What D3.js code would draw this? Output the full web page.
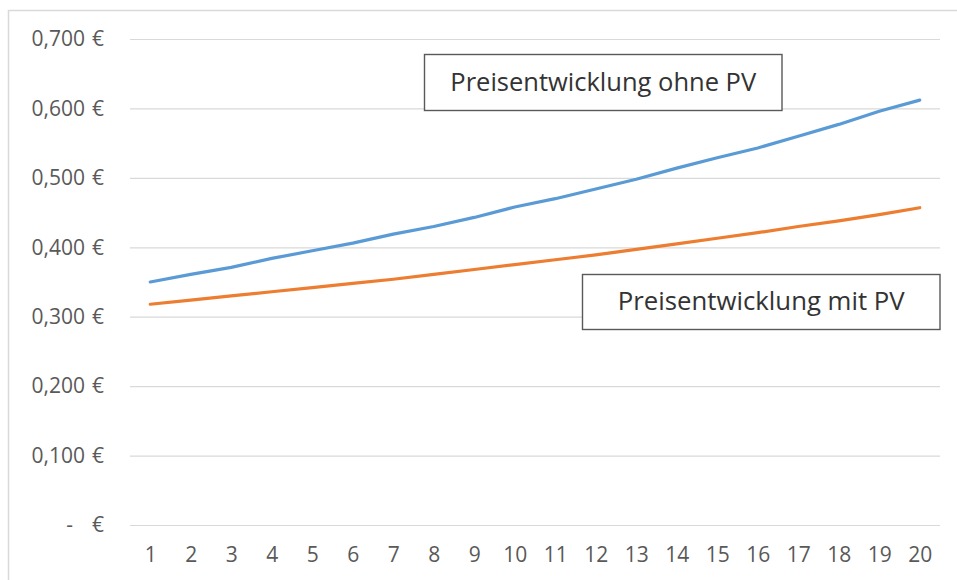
<!DOCTYPE html>
<html><head><meta charset="utf-8">
<script src="https://cdn.jsdelivr.net/npm/d3@7"></script>
<style>body{margin:0;background:#fff}</style>
</head><body><svg id="c" width="957" height="580"></svg>
<script>
// ---- data ----
const categories = ["1","2","3","4","5","6","7","8","9","10","11","12","13","14","15","16","17","18","19","20"];
const ohnePV = [0.350,0.361,0.371,0.384,0.395,0.406,0.419,0.430,0.443,0.458,0.470,0.484,0.498,0.514,0.529,0.543,0.560,0.577,0.596,0.612];
const mitPV  = [0.318,0.324,0.330,0.336,0.342,0.348,0.354,0.361,0.368,0.375,0.382,0.389,0.397,0.405,0.413,0.421,0.430,0.438,0.447,0.457];
const yTicks = [0,0.1,0.2,0.3,0.4,0.5,0.6,0.7];
const yTickLabels = ["-","0,100","0,200","0,300","0,400","0,500","0,600","0,700"];
const currency = "€";
const annotationTexts = ["Preisentwicklung ohne PV","Preisentwicklung mit PV"];

// ---- layout ----
(function(){
const svg = d3.select("#c");
const FONT = "'Open Sans', 'Noto Sans', sans-serif";
const pLeft = 130, pRight = 940, pTop = 39, pBottom = 525;

svg.append("rect").attr("x",8.5).attr("y",10.5).attr("width",1000).attr("height",1000)
  .attr("fill","#fff").attr("stroke","#d9d9d9").attr("stroke-width",1.5);

const x = d3.scalePoint().domain(categories).range([pLeft,pRight]).padding(0.5);
const y = d3.scaleLinear().domain([0,0.7]).range([pBottom,pTop]);

// gridlines
const grid = svg.append("g").attr("transform",`translate(${pLeft},0)`)
  .call(d3.axisLeft(y).tickValues(yTicks).tickSize(-(pRight-pLeft)).tickFormat(""));
grid.select(".domain").remove();
grid.selectAll(".tick line").attr("stroke","#d9d9d9").attr("stroke-width",1.2);

// y labels
const yAx = svg.append("g").attr("transform",`translate(${pLeft},0)`)
  .call(d3.axisLeft(y).tickValues(yTicks).tickSize(0).tickPadding(45)
    .tickFormat((d,i)=>yTickLabels[i]));
yAx.select(".domain").remove();
yAx.selectAll(".tick text").attr("font-family",FONT).attr("font-size",21).attr("fill","#595959");
yAx.selectAll(".tick").filter(d=>d===0).select("text").attr("x",-57);
yAx.selectAll(".tick").append("text").text(currency)
  .attr("x",-26).attr("dy","0.32em").attr("text-anchor","end")
  .attr("font-family",FONT).attr("font-size",21).attr("fill","#595959");

// x labels
const xAx = svg.append("g").attr("transform",`translate(0,${pBottom})`)
  .call(d3.axisBottom(x).tickSize(0));
xAx.select(".domain").remove();
xAx.selectAll(".tick text").attr("y",37).attr("dy",0)
  .attr("font-family",FONT).attr("font-size",21).attr("fill","#595959");

// lines
const line = d3.line().x((d,i)=>x(categories[i])).y(d=>y(d));
svg.append("path").datum(ohnePV).attr("d",line).attr("fill","none")
  .attr("stroke","#5B9BD5").attr("stroke-width",3.2).attr("stroke-linecap","round").attr("stroke-linejoin","round");
svg.append("path").datum(mitPV).attr("d",line).attr("fill","none")
  .attr("stroke","#ED7D31").attr("stroke-width",3.2).attr("stroke-linecap","round").attr("stroke-linejoin","round");

// annotation boxes
const boxes = [
  {x:424.5, y:54.5, w:357.5, h:56, base:91, tw:306},
  {x:582.5, y:274.5, w:357.5, h:55, base:310, tw:287}
];
boxes.forEach((b,i)=>{
  svg.append("rect").attr("x",b.x).attr("y",b.y).attr("width",b.w).attr("height",b.h)
    .attr("fill","#fff").attr("stroke","#595959").attr("stroke-width",1.4);
  const t = svg.append("text").text(annotationTexts[i])
    .attr("x",b.x+b.w/2).attr("y",b.base).attr("text-anchor","middle")
    .attr("font-family",FONT).attr("font-size",24).attr("fill","#333333");
  const len = t.node().getComputedTextLength();
  t.attr("font-size", 24*b.tw/len);
});
})();
</script>
</body></html>
